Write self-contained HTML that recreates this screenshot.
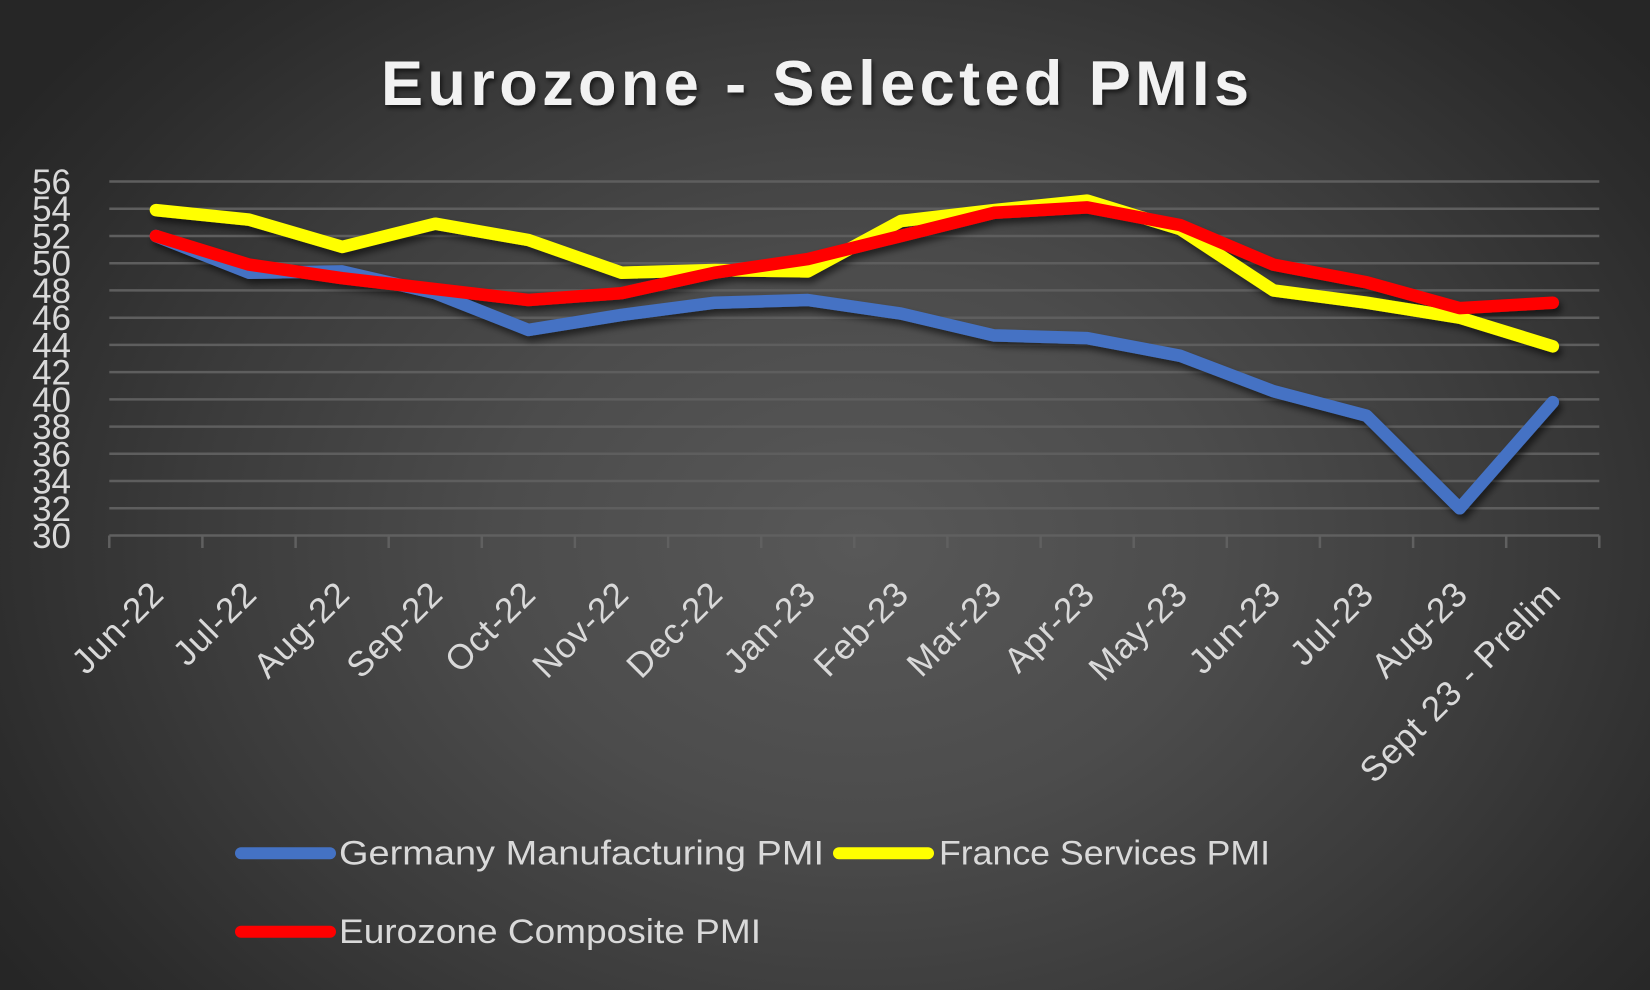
<!DOCTYPE html>
<html>
<head>
<meta charset="utf-8">
<style>
  html, body { margin:0; padding:0; }
  body {
    width:1650px; height:990px; overflow:hidden;
    background: radial-gradient(ellipse 62% 78% at 52% 55%, #585858 0%, #4c4c4c 35%, #3b3b3b 65%, #2c2c2c 88%, #262626 100%);
    font-family: "Liberation Sans", sans-serif;
  }
  svg { position:absolute; left:0; top:0; }
</style>
</head>
<body>
<svg width="1650" height="990" viewBox="0 0 1650 990" xmlns="http://www.w3.org/2000/svg">
  <defs>
    <filter id="sh" x="-10%" y="-10%" width="120%" height="130%">
      <feDropShadow dx="3" dy="5" stdDeviation="3.5" flood-color="#000" flood-opacity="0.55"/>
    </filter>
    <filter id="tsh" x="-5%" y="-20%" width="110%" height="150%">
      <feDropShadow dx="2" dy="3" stdDeviation="2.5" flood-color="#000" flood-opacity="0.6"/>
    </filter>
  </defs>

  <!-- Title -->
  <text x="381" y="105" font-family="Liberation Sans, sans-serif" font-weight="bold" font-size="63" fill="#f2f2f2" textLength="868" lengthAdjust="spacing" filter="url(#tsh)">Eurozone - Selected PMIs</text>

  <!-- Gridlines -->
  <g stroke="#5e5e5e" stroke-width="2.5">
    <line x1="109.3" x2="1599.3" y1="181.5" y2="181.5"/>
    <line x1="109.3" x2="1599.3" y1="208.7" y2="208.7"/>
    <line x1="109.3" x2="1599.3" y1="236.0" y2="236.0"/>
    <line x1="109.3" x2="1599.3" y1="263.2" y2="263.2"/>
    <line x1="109.3" x2="1599.3" y1="290.4" y2="290.4"/>
    <line x1="109.3" x2="1599.3" y1="317.7" y2="317.7"/>
    <line x1="109.3" x2="1599.3" y1="344.9" y2="344.9"/>
    <line x1="109.3" x2="1599.3" y1="372.1" y2="372.1"/>
    <line x1="109.3" x2="1599.3" y1="399.4" y2="399.4"/>
    <line x1="109.3" x2="1599.3" y1="426.6" y2="426.6"/>
    <line x1="109.3" x2="1599.3" y1="453.8" y2="453.8"/>
    <line x1="109.3" x2="1599.3" y1="481.0" y2="481.0"/>
    <line x1="109.3" x2="1599.3" y1="508.3" y2="508.3"/>
  </g>
  <!-- X axis + ticks -->
  <g stroke="#606060" stroke-width="2.5">
    <line x1="109.3" x2="1599.3" y1="535.5" y2="535.5"/>
    <line x1="109.3" x2="109.3" y1="535.5" y2="548"/>
    <line x1="202.4" x2="202.4" y1="535.5" y2="548"/>
    <line x1="295.6" x2="295.6" y1="535.5" y2="548"/>
    <line x1="388.7" x2="388.7" y1="535.5" y2="548"/>
    <line x1="481.8" x2="481.8" y1="535.5" y2="548"/>
    <line x1="574.9" x2="574.9" y1="535.5" y2="548"/>
    <line x1="668.1" x2="668.1" y1="535.5" y2="548"/>
    <line x1="761.2" x2="761.2" y1="535.5" y2="548"/>
    <line x1="854.3" x2="854.3" y1="535.5" y2="548"/>
    <line x1="947.4" x2="947.4" y1="535.5" y2="548"/>
    <line x1="1040.6" x2="1040.6" y1="535.5" y2="548"/>
    <line x1="1133.7" x2="1133.7" y1="535.5" y2="548"/>
    <line x1="1226.8" x2="1226.8" y1="535.5" y2="548"/>
    <line x1="1319.9" x2="1319.9" y1="535.5" y2="548"/>
    <line x1="1413.1" x2="1413.1" y1="535.5" y2="548"/>
    <line x1="1506.2" x2="1506.2" y1="535.5" y2="548"/>
    <line x1="1599.3" x2="1599.3" y1="535.5" y2="548"/>
  </g>

  <!-- Y labels -->
  <g font-family="Liberation Sans, sans-serif" font-size="35" fill="#d9d9d9" text-anchor="end">
    <text x="71" y="194">56</text>
    <text x="71" y="221.2">54</text>
    <text x="71" y="248.5">52</text>
    <text x="71" y="275.7">50</text>
    <text x="71" y="302.9">48</text>
    <text x="71" y="330.2">46</text>
    <text x="71" y="357.4">44</text>
    <text x="71" y="384.6">42</text>
    <text x="71" y="411.9">40</text>
    <text x="71" y="439.1">38</text>
    <text x="71" y="466.3">36</text>
    <text x="71" y="493.5">34</text>
    <text x="71" y="520.8">32</text>
    <text x="71" y="548">30</text>
  </g>

  <!-- X labels -->
  <g font-family="Liberation Sans, sans-serif" font-size="35" fill="#d9d9d9" text-anchor="end" letter-spacing="1">
    <text transform="translate(166,596) rotate(-45)">Jun-22</text>
    <text transform="translate(259,596) rotate(-45)">Jul-22</text>
    <text transform="translate(352,596) rotate(-45)">Aug-22</text>
    <text transform="translate(445,596) rotate(-45)">Sep-22</text>
    <text transform="translate(538,596) rotate(-45)">Oct-22</text>
    <text transform="translate(631,596) rotate(-45)">Nov-22</text>
    <text transform="translate(725,596) rotate(-45)">Dec-22</text>
    <text transform="translate(818,596) rotate(-45)">Jan-23</text>
    <text transform="translate(911,596) rotate(-45)">Feb-23</text>
    <text transform="translate(1004,596) rotate(-45)">Mar-23</text>
    <text transform="translate(1097,596) rotate(-45)">Apr-23</text>
    <text transform="translate(1190,596) rotate(-45)">May-23</text>
    <text transform="translate(1283,596) rotate(-45)">Jun-23</text>
    <text transform="translate(1376,596) rotate(-45)">Jul-23</text>
    <text transform="translate(1470,596) rotate(-45)">Aug-23</text>
    <text transform="translate(1563,596) rotate(-45)">Sept 23 - Prelim</text>
  </g>

  <!-- Series -->
  <g fill="none" stroke-width="12.5" stroke-linejoin="round" stroke-linecap="round" filter="url(#sh)">
    <polyline stroke="#4472c4" points="155.9,236.0 249.0,272.7 342.2,271.4 435.3,293.2 528.4,329.9 621.5,314.9 714.7,302.7 807.8,300.0 900.9,313.6 994.0,335.4 1087.2,338.1 1180.3,355.8 1273.4,391.2 1366.5,415.7 1459.7,508.3 1552.8,402.1"/>
    <polyline stroke="#ffff00" points="155.9,210.1 249.0,219.6 342.2,246.9 435.3,223.7 528.4,240.0 621.5,272.7 714.7,270.0 807.8,271.4 900.9,221.0 994.0,210.1 1087.2,200.6 1180.3,229.2 1273.4,290.4 1366.5,302.7 1459.7,317.7 1552.8,346.3"/>
    <polyline stroke="#ff0000" points="155.9,236.0 249.0,264.6 342.2,278.2 435.3,289.1 528.4,300.0 621.5,293.2 714.7,272.7 807.8,259.1 900.9,236.0 994.0,212.8 1087.2,207.4 1180.3,225.1 1273.4,264.6 1366.5,282.3 1459.7,308.1 1552.8,302.7"/>
  </g>

  <!-- Legend -->
  <g stroke-width="12" stroke-linecap="round">
    <line x1="241" x2="330" y1="853.3" y2="853.3" stroke="#4472c4"/>
    <line x1="839" x2="928" y1="853.3" y2="853.3" stroke="#ffff00"/>
    <line x1="241" x2="330" y1="931.7" y2="931.7" stroke="#ff0000"/>
  </g>
  <g font-family="Liberation Sans, sans-serif" font-size="34" fill="#d9d9d9">
    <text x="339" y="864.5" textLength="485" lengthAdjust="spacingAndGlyphs">Germany Manufacturing PMI</text>
    <text x="939" y="864.5" textLength="331" lengthAdjust="spacingAndGlyphs">France Services PMI</text>
    <text x="339" y="943" textLength="422" lengthAdjust="spacingAndGlyphs">Eurozone Composite PMI</text>
  </g>
</svg>
</body>
</html>
